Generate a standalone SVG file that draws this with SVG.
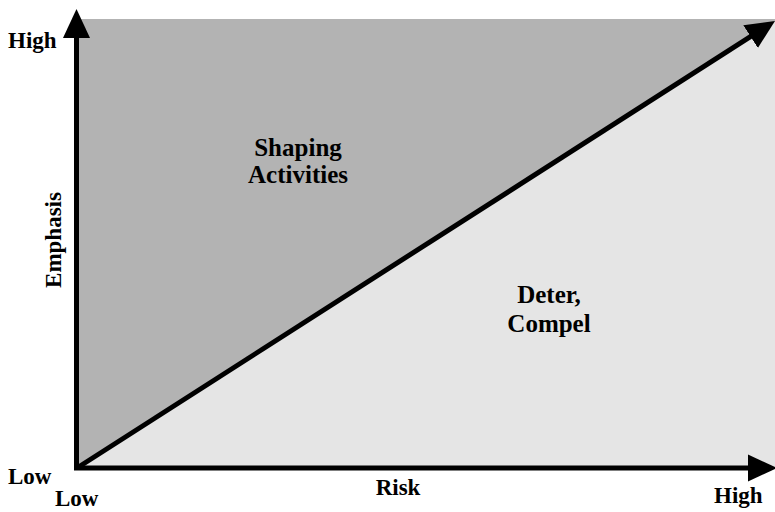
<svg xmlns="http://www.w3.org/2000/svg" width="775" height="512" viewBox="0 0 775 512">
  <style>
    .ax { font-family: "Liberation Serif", "Times New Roman", serif; font-weight: bold; font-size: 23px; fill: #000; }
    .lbl { font-family: "Liberation Serif", "Times New Roman", serif; font-weight: bold; font-size: 25px; fill: #000; text-anchor: middle; }
    .axis { stroke: #000; stroke-width: 5; fill: none; }
  </style>
  <defs>
    <marker id="arrow" markerUnits="userSpaceOnUse" markerWidth="30" markerHeight="28" refX="10" refY="13.5" orient="auto" viewBox="0 0 30 27">
      <path d="M0,0 L29,13.5 L0,27 z" fill="#000"/>
    </marker>
  </defs>
  <rect width="775" height="512" fill="#fff"/>
  <g id="regions">
    <rect id="region-low" x="77" y="19" width="698" height="449" fill="#e5e5e5"/>
    <polygon id="region-shaping" points="77,19 775,19 775,21 77,468" fill="#b3b3b3"/>
  </g>
  <g id="connectors">
    <line class="axis" x1="76.5" y1="470" x2="76.5" y2="28" marker-end="url(#arrow)"/>
    <line class="axis" x1="74" y1="468" x2="758" y2="468" marker-end="url(#arrow)"/>
    <line class="axis" x1="77" y1="468" x2="759" y2="31.2" marker-end="url(#arrow)"/>
  </g>
  <g id="axis-labels">
    <text class="ax" x="8" y="48">High</text>
    <text class="ax" x="8" y="484">Low</text>
    <text class="ax" x="55" y="506">Low</text>
    <text class="ax" x="714" y="503">High</text>
    <text class="ax" x="398" y="495" text-anchor="middle">Risk</text>
    <text class="ax" x="0" y="0" text-anchor="middle" transform="translate(61,240) rotate(-90)">Emphasis</text>
  </g>
  <g id="node-shaping">
    <text class="lbl" x="298" y="156">Shaping</text>
    <text class="lbl" x="298" y="183">Activities</text>
  </g>
  <g id="node-deter">
    <text class="lbl" x="549" y="303">Deter,</text>
    <text class="lbl" x="549" y="332">Compel</text>
  </g>
</svg>
